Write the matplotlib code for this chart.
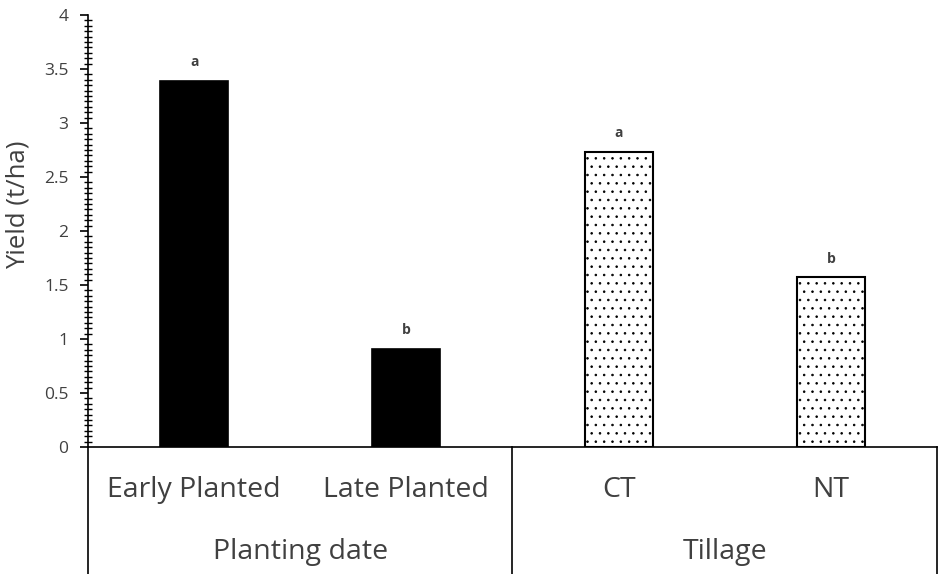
import numpy as np
import matplotlib.pyplot as plt
from matplotlib.ticker import MultipleLocator, FormatStrFormatter

# ---- data ----
categories = ["Early Planted", "Late Planted", "CT", "NT"]
yields = [3.39, 0.91, 2.73, 1.57]
letters = ["a", "b", "a", "b"]
groups = ["Planting date", "Tillage"]
group_centers = [0.5, 2.5]

plt.rcParams["font.family"] = ["Open Sans", "DejaVu Sans"]
plt.rcParams["hatch.linewidth"] = 0.6
grey = "#404040"

fig = plt.figure(figsize=(9.45, 5.74), dpi=100)
ax = fig.add_axes([0.0931, 0.2213, 0.8984, 0.7526])

x = np.arange(len(categories))
ax.bar(x[:2], yields[:2], width=0.32, color="black", edgecolor="black", linewidth=1.2)
ax.bar(x[2:], yields[2:], width=0.32, color="white", edgecolor="black",
       linewidth=1.5, hatch="..")

for xi, v, lab in zip(x, yields, letters):
    ax.text(xi, v + 0.11, lab, ha="center", va="bottom", fontsize=10,
            fontweight="bold", color=grey)

ax.set_xlim(-0.5, 3.5)
ax.set_ylim(0, 4)
ax.yaxis.set_major_locator(MultipleLocator(0.5))
ax.yaxis.set_minor_locator(MultipleLocator(0.05))
ax.yaxis.set_major_formatter(FormatStrFormatter("%g"))
ax.tick_params(axis="y", which="major", direction="out", length=6, width=1.2,
               labelsize=12.5, labelcolor=grey, pad=8)
ax.tick_params(axis="y", which="minor", direction="inout", length=6, width=1.0)
ax.set_xticks([])

for s in ["top", "right"]:
    ax.spines[s].set_visible(False)
ax.spines["left"].set_linewidth(1.2)
ax.spines["bottom"].set_linewidth(1.2)

ax.set_ylabel("Yield (t/ha)", fontsize=18.5, color=grey)
ax.yaxis.set_label_coords(-0.068, 0.56)

# grouped category axis below the plot
tr = ax.get_xaxis_transform()
for xv in [-0.5, 1.5, 3.5]:
    ax.plot([xv, xv], [0, -0.32], transform=tr, color="black", lw=1.2, clip_on=False)

for xi, lab in zip(x, categories):
    ax.text(xi, -0.1, lab, transform=tr, ha="center", va="center",
            fontsize=20.5, color=grey)
for gc, g in zip(group_centers, groups):
    ax.text(gc, -0.243, g, transform=tr, ha="center", va="center",
            fontsize=20.5, color=grey)

fig.savefig("out.png", dpi=100)
